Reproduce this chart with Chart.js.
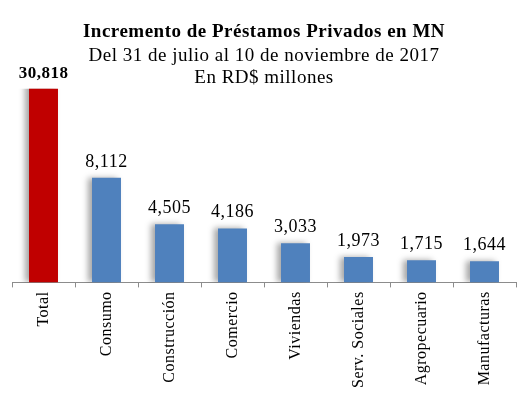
<!DOCTYPE html>
<html>
<head>
<meta charset="utf-8">
<script src="https://cdn.jsdelivr.net/npm/chart.js@4"></script>
<style>
  html, body { margin: 0; padding: 0; background: #fff; }
  #wrap { width: 525px; height: 394px; }
</style>
</head>
<body>
<div id="wrap"><canvas id="prestamos"></canvas></div>
<script>
const categorias = ["Total", "Consumo", "Construcción", "Comercio", "Viviendas", "Serv. Sociales", "Agropecuario", "Manufacturas"];
const incremento = [30818, 8112, 4505, 4186, 3033, 1973, 1715, 1644];
const colores = ["#C00000", "#4F81BD", "#4F81BD", "#4F81BD", "#4F81BD", "#4F81BD", "#4F81BD", "#4F81BD"];
const ejeMax = 15000;

const serif = "'Liberation Serif', 'Times New Roman', serif";

// texto algo mas espaciado, como en el original
const espaciado = {
    id: 'espaciado',
    beforeLayout(chart) { chart.ctx.letterSpacing = '0.5px'; },
    beforeDraw(chart) { chart.ctx.letterSpacing = '0.5px'; }
};

// sombra a la izquierda de las barras
const sombra = {
    id: 'sombra',
    beforeDatasetDraw(chart) {
        const ctx = chart.ctx;
        ctx.save();
        ctx.shadowColor = 'rgba(0,0,0,0.35)';
        ctx.shadowBlur = 6;
        ctx.shadowOffsetX = -4;
        ctx.shadowOffsetY = 0;
    },
    afterDatasetDraw(chart) {
        chart.ctx.restore();
    }
};

// etiquetas de valor encima de cada barra
const etiquetas = {
    id: 'etiquetas',
    afterDatasetsDraw(chart) {
        const ctx = chart.ctx;
        const meta = chart.getDatasetMeta(0);
        ctx.save();
        ctx.textAlign = 'center';
        ctx.textBaseline = 'alphabetic';
        ctx.fillStyle = '#000';
        meta.data.forEach((bar, i) => {
            const y = Math.max(bar.y, chart.chartArea.top);
            ctx.font = (i === 0 ? 'bold 17px ' : '18px ') + serif;
            ctx.fillText(incremento[i].toLocaleString('en-US'), bar.x, y - 11);
        });
        ctx.restore();
    }
};

new Chart(document.getElementById("prestamos"), {
    type: 'bar',
    data: {
        labels: categorias,
        datasets: [{
            data: incremento,
            backgroundColor: colores,
            barPercentage: 0.92,
            categoryPercentage: 0.5
        }]
    },
    options: {
        responsive: true,
        maintainAspectRatio: false,
        animation: false,
        layout: { padding: { left: 12, right: 9, top: 0, bottom: 2 } },
        plugins: {
            legend: { display: false },
            tooltip: { enabled: false },
            title: {
                display: true,
                text: 'Incremento de Préstamos Privados en MN',
                color: '#000',
                font: { family: serif, size: 19, weight: 'bold', lineHeight: 1.15 },
                padding: { top: 21, bottom: 0 }
            },
            subtitle: {
                display: true,
                text: ['Del 31 de julio al 10 de noviembre de 2017', 'En RD$ millones'],
                color: '#000',
                font: { family: serif, size: 19, weight: 'normal', lineHeight: 1.158 },
                padding: { top: 2, bottom: 0 }
            }
        },
        scales: {
            x: {
                grid: {
                    display: true,
                    drawOnChartArea: false,
                    drawTicks: true,
                    tickLength: 5,
                    color: '#8c8c8c',
                    offset: true
                },
                border: { display: true, color: '#8c8c8c' },
                ticks: {
                    color: '#000',
                    font: { family: serif, size: 16 },
                    minRotation: 90,
                    maxRotation: 90,
                    padding: 4
                }
            },
            y: {
                display: false,
                min: 0,
                max: ejeMax
            }
        }
    },
    plugins: [espaciado, sombra, etiquetas]
});
</script>
</body>
</html>
